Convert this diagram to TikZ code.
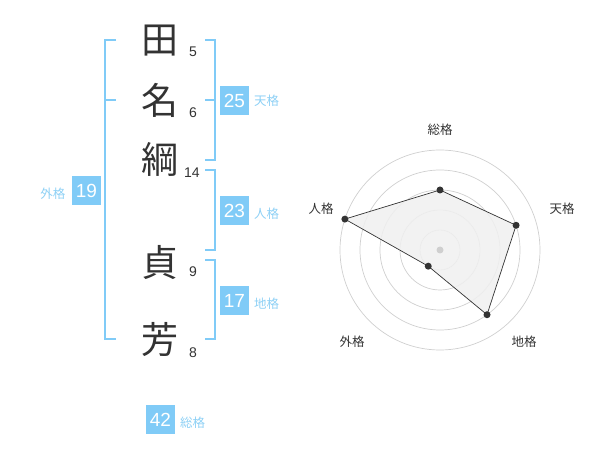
\documentclass[tikz,border=0pt]{standalone}
\usepackage{fontspec}
\usetikzlibrary{calc}
\setmainfont{Liberation Sans}
\newfontfamily\cjk{Noto Sans CJK JP}
\definecolor{kblue}{HTML}{80CBF7}
\definecolor{klabel}{HTML}{8DD0F5}
\definecolor{ktext}{HTML}{333333}
\definecolor{kring}{HTML}{CFCFCF}
\definecolor{kfill}{HTML}{F0F0F0}
\begin{document}
\begin{tikzpicture}[x=1pt,y=-1pt,
  kanji/.style={font=\cjk\fontsize{37}{37}\selectfont, text=ktext, inner sep=0pt},
  strokes/.style={font=\fontsize{14}{14}\selectfont, text=ktext, inner sep=0pt},
  bracket/.style={draw=kblue, line width=2pt},
  numbox/.style={fill=kblue, text=white, minimum width=29pt, minimum height=29pt, inner sep=0pt, font=\fontsize{19}{19}\selectfont},
  kaku/.style={text=klabel, inner sep=0pt, font=\cjk\fontsize{12.5}{12.5}\selectfont},
  ring/.style={draw=kring, line width=0.7pt},
  dot/.style={circle, fill=ktext, inner sep=0pt, minimum size=7pt},
  axlabel/.style={text=ktext, inner sep=0pt, font=\cjk\fontsize{12.5}{12.5}\selectfont}]
\useasboundingbox (0,0) rectangle (600,470);
% characters
\node[kanji] (c1) at (160,41) {田};
\node[kanji] (c2) at (160,100) {名};
\node[kanji] (c3) at (160,159) {綱};
\node[kanji] (c4) at (160,262) {貞};
\node[kanji] (c5) at (160,340) {芳};
\node[strokes] (s1) at (193,52) {5};
\node[strokes] (s2) at (193,113) {6};
\node[strokes] (s3) at (192,173) {14};
\node[strokes] (s4) at (193,272) {9};
\node[strokes] (s5) at (193,353) {8};
% brackets
\draw[bracket] (116,40) -- (105,40) -- (105,339.5) -- (116,339.5);
\draw[bracket] (105,100) -- (116,100);
\draw[bracket] (205,40) -- (214.5,40) -- (214.5,160) -- (205,160);
\draw[bracket] (205,100) -- (214.5,100);
\draw[bracket] (205,170) -- (214.5,170) -- (214.5,250) -- (205,250);
\draw[bracket] (205,260) -- (214.5,260) -- (214.5,339.5) -- (205,339.5);
% boxes
\node[numbox] (ten) at (234.5,100.5) {25};
\node[kaku, anchor=west] (tenl) at (254,101) {天格};
\node[numbox] (jin) at (234.5,210.5) {23};
\node[kaku, anchor=west] (jinl) at (254,214) {人格};
\node[numbox] (chi) at (234.5,300.5) {17};
\node[kaku, anchor=west] (chil) at (254,304) {地格};
\node[numbox] (gai) at (86.5,190.5) {19};
\node[kaku, anchor=east] (gail) at (65.5,194) {外格};
\node[numbox] (sou) at (160.5,419.5) {42};
\node[kaku, anchor=west] (soul) at (180,423) {総格};
% radar
\coordinate (o) at (440,250);
\foreach \r in {20,40,60,80,100} \draw[ring] (o) circle (\r);
\coordinate (p1) at ($(o)+(-90:60)$);
\coordinate (p2) at ($(o)+(-18:80)$);
\coordinate (p3) at ($(o)+(54:80)$);
\coordinate (p4) at ($(o)+(126:20)$);
\coordinate (p5) at ($(o)+(198:100)$);
\draw[fill=kfill, fill opacity=0.85, draw=ktext, line width=0.7pt] (p1) -- (p2) -- (p3) -- (p4) -- (p5) -- cycle;
\node[circle, fill=kring, inner sep=0pt, minimum size=7pt] (oc) at (o) {};
\foreach \p in {p1,p2,p3,p4,p5} \node[dot] at (\p) {};
\node[axlabel] (l1) at (440,130) {総格};
\node[axlabel] (l2) at (562,209) {天格};
\node[axlabel] (l3) at (524,342) {地格};
\node[axlabel] (l4) at (352,342) {外格};
\node[axlabel] (l5) at (321,209) {人格};
\end{tikzpicture}
\end{document}
